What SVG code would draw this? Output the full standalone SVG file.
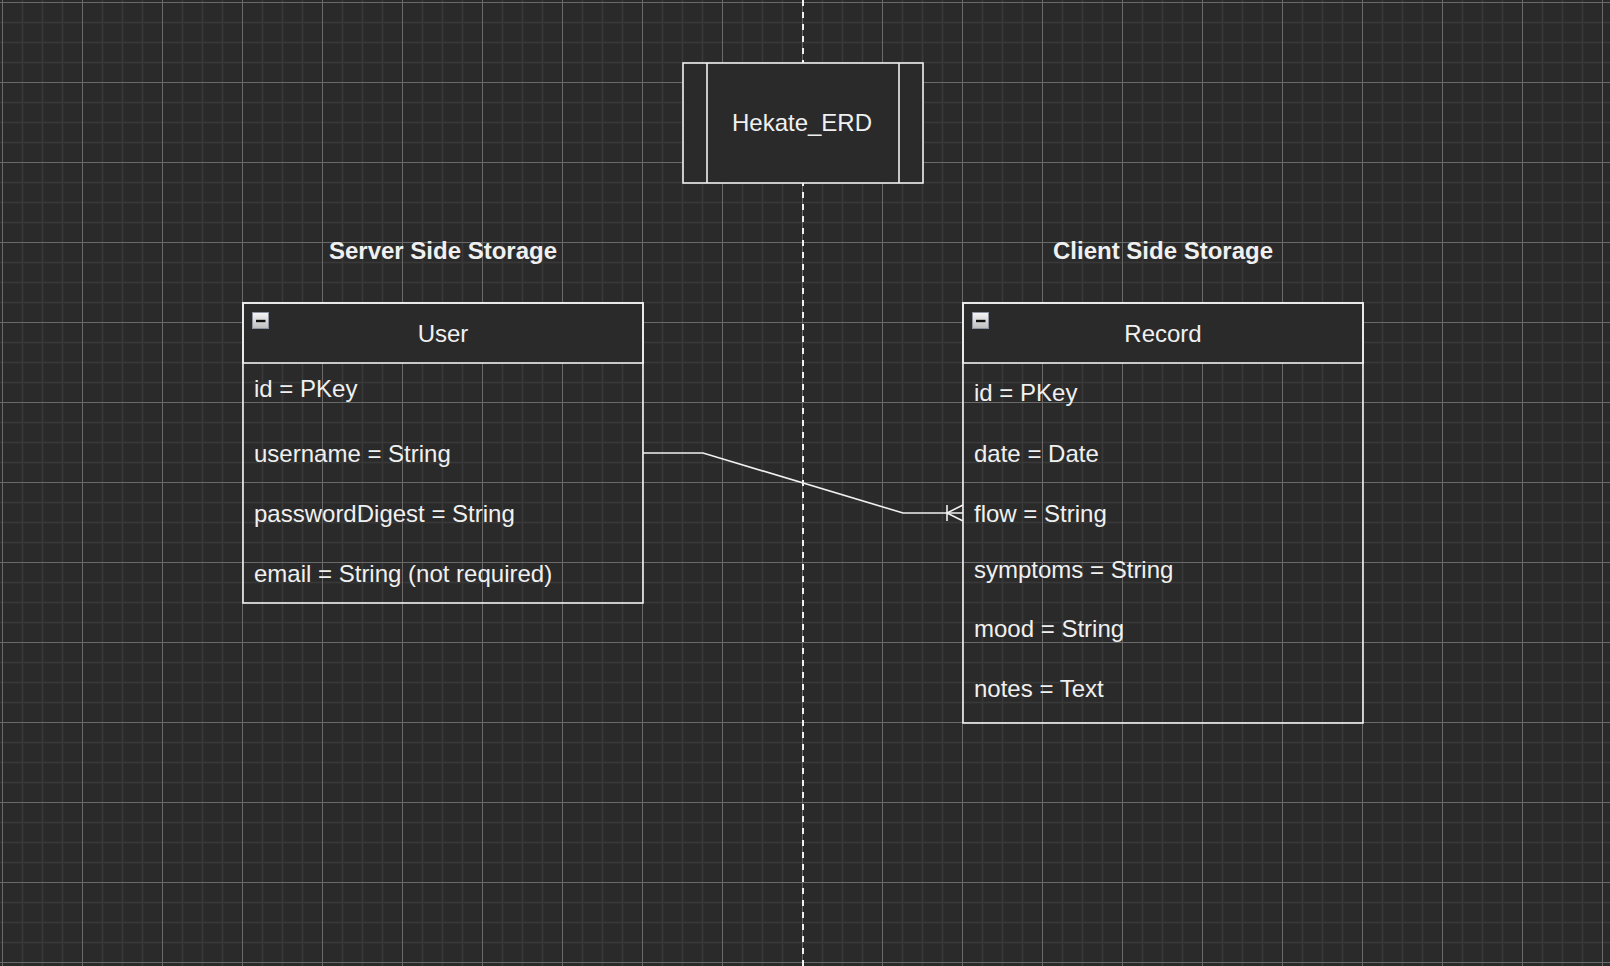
<svg xmlns="http://www.w3.org/2000/svg" width="1610" height="966" viewBox="0 0 1610 966">
  <defs>
    <pattern id="grid" patternUnits="userSpaceOnUse" x="2" y="2" width="80" height="80">
      <path d="M20.5 0V80M40.5 0V80M60.5 0V80M0 20.5H80M0 40.5H80M0 60.5H80" stroke="#393939" stroke-width="1.6" fill="none"/>
      <path d="M0.5 0V80M0 0.5H80" stroke="#6a6a6a" stroke-width="1" fill="none"/>
    </pattern>
    <linearGradient id="iconGrad" x1="0" y1="0" x2="0" y2="1">
      <stop offset="0" stop-color="#f6f6f6"/>
      <stop offset="1" stop-color="#bdbdbd"/>
    </linearGradient>
    <style>
      .box { fill: #2a2a2a; stroke: #f0f0f0; stroke-width: 1.6; }
      .frame { fill: none; stroke: #f0f0f0; stroke-width: 1.6; }
      .line { fill: none; stroke: #f0f0f0; stroke-width: 1.6; }
      .t { font-family: "Liberation Sans", Arial, sans-serif; font-size: 24px; fill: #f0f0f0; }
      .c { text-anchor: middle; }
      .b { font-weight: bold; }
      .icon { fill: url(#iconGrad); stroke: #8d93a3; stroke-width: 1; }
    </style>
  </defs>
  <rect width="1610" height="966" fill="#2a2a2a"/>
  <rect width="1610" height="966" fill="url(#grid)"/>

  <g id="divider">
    <line x1="803" y1="0" x2="803" y2="966" stroke="#f0f0f0" stroke-width="2" stroke-dasharray="6 6"/>
  </g>

  <g id="title">
    <rect class="box" x="683" y="63" width="240" height="120"/>
    <line class="line" x1="707" y1="63" x2="707" y2="183"/>
    <line class="line" x1="899" y1="63" x2="899" y2="183"/>
    <text class="t c" x="802" y="131">Hekate_ERD</text>
  </g>

  <g id="server-label">
    <text class="t c b" x="443" y="259">Server Side Storage</text>
  </g>
  <g id="client-label">
    <text class="t c b" x="1163" y="259">Client Side Storage</text>
  </g>

  <g id="user">
    <rect class="box" x="243" y="303" width="400" height="60"/>
    <rect class="frame" x="243" y="303" width="400" height="300"/>
    <rect class="icon" x="252.5" y="312.5" width="16" height="16"/>
    <rect x="256" y="319.8" width="9.5" height="2.4" fill="#111"/>
    <text class="t c" x="443" y="342">User</text>
    <text class="t" x="254" y="397">id = PKey</text>
    <text class="t" x="254" y="462">username = String</text>
    <text class="t" x="254" y="522">passwordDigest = String</text>
    <text class="t" x="254" y="582">email = String (not required)</text>
  </g>

  <g id="record">
    <rect class="box" x="963" y="303" width="400" height="60"/>
    <rect class="frame" x="963" y="303" width="400" height="420"/>
    <rect class="icon" x="972.5" y="312.5" width="16" height="16"/>
    <rect x="976" y="319.8" width="9.5" height="2.4" fill="#111"/>
    <text class="t c" x="1163" y="342">Record</text>
    <text class="t" x="974" y="401">id = PKey</text>
    <text class="t" x="974" y="462">date = Date</text>
    <text class="t" x="974" y="522">flow = String</text>
    <text class="t" x="974" y="578">symptoms = String</text>
    <text class="t" x="974" y="637">mood = String</text>
    <text class="t" x="974" y="697">notes = Text</text>
  </g>

  <g id="connectors">
    <polyline class="line" points="643,453 703,453 903,513 963,513"/>
    <line class="line" x1="947" y1="505" x2="947" y2="521"/>
    <polyline class="line" points="963,505 947,513 963,521"/>
  </g>
</svg>
